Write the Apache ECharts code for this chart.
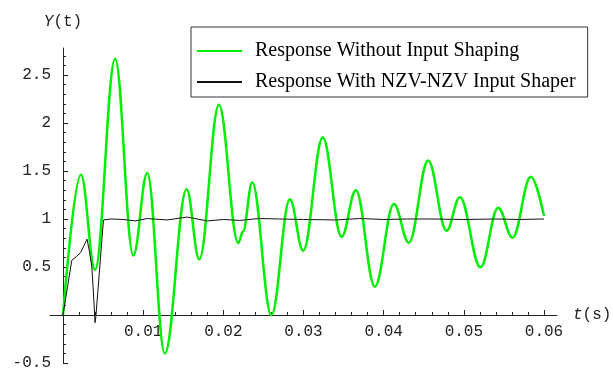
<!DOCTYPE html>
<html>
<head>
<meta charset="utf-8">
<script src="https://cdn.jsdelivr.net/npm/echarts@6/dist/echarts.min.js"></script>
<style>
html,body{margin:0;padding:0;background:#fff;}
#chart{width:613px;height:369px;}
</style>
</head>
<body>
<div id="chart"></div>
<script>
// ---- data ----
const seriesNames = ['Response Without Input Shaping', 'Response With NZV-NZV Input Shaper'];

// green: peaks / troughs of the unshaped response
const greenT = [0, 0.00224, 0.0040, 0.0065, 0.00877, 0.01051, 0.0127, 0.01542, 0.0170, 0.01945,
  0.02186, 0.02245, 0.0236, 0.0260, 0.0283, 0.02996, 0.0324, 0.03475, 0.03653, 0.0389,
  0.04127, 0.04314, 0.04555, 0.04784, 0.0495, 0.05208, 0.05428, 0.05607, 0.05835, 0.0600];
const greenY = [0, 1.46, 0.47, 2.67, 0.62, 1.48, -0.40, 1.31, 0.58, 2.19,
  0.75, 0.87, 1.38, 0.0, 1.205, 0.67, 1.85, 0.815, 1.30, 0.295,
  1.156, 0.753, 1.61, 0.878, 1.226, 0.497, 1.118, 0.805, 1.44, 1.03];

// black: shaped response
const blackT = [0, 0.0011, 0.0017, 0.0022, 0.0026, 0.0030, 0.0033, 0.0036, 0.0038, 0.0040,
  0.0041, 0.00505, 0.0060, 0.0075, 0.0090, 0.0105, 0.0130, 0.0155, 0.0180, 0.0200,
  0.0220, 0.0245, 0.0270, 0.0300, 0.0340, 0.0370, 0.0400, 0.0430, 0.0460, 0.0500,
  0.0540, 0.0570, 0.0600];
const blackY = [0, 0.57, 0.61, 0.65, 0.72, 0.79, 0.66, 0.50, 0.23, -0.08,
  -0.02, 0.99, 1.0, 0.995, 0.98, 1.005, 0.99, 1.02, 0.98, 0.995,
  0.985, 1.005, 1.0, 0.995, 0.99, 1.005, 0.995, 1.0, 1.0, 0.995,
  1.0, 0.995, 1.0];

const xTickLabels = [0.01, 0.02, 0.03, 0.04, 0.05, 0.06];
const yTickLabels = [-0.5, 0.5, 1, 1.5, 2, 2.5];
const yMajorTicks = [-0.5, 0, 0.5, 1, 1.5, 2, 2.5];

// minor tick positions
const xMinorTicks = [];
for (let k = 1; k <= 30; k++) { if (k % 5) xMinorTicks.push(Number((k * 0.002).toFixed(3))); }
const yMinorTicks = [];
for (let k = -5; k <= 27; k++) { if (k % 5) yMinorTicks.push(Number((k * 0.1).toFixed(1))); }

const green = greenT.map((t, i) => [t, greenY[i]]);
const black = blackT.map((t, i) => [t, blackY[i]]);

const monoFont = 'Liberation Mono';
const labelColor = '#222';
const axisColor = '#222';

const chart = echarts.init(document.getElementById('chart'), null, {renderer: 'canvas'});
chart.setOption({
  animation: false,
  backgroundColor: '#fff',
  grid: {left: 50, right: 56, top: 48, bottom: 6, containLabel: false, outerBoundsMode: 'none'},
  legend: {
    orient: 'vertical', left: 191, top: 27,
    padding: [13, 12, 4, 6], itemGap: 9,
    itemWidth: 45, itemHeight: 2, icon: 'rect',
    backgroundColor: '#fff', borderColor: '#333', borderWidth: 1, borderRadius: 0,
    textStyle: {fontFamily: 'Liberation Serif', fontSize: 20, color: '#000', lineHeight: 22, padding: [0, 0, 0, 8]},
    data: seriesNames
  },
  xAxis: [{
    type: 'value', position: 'bottom', min: -0.00162, max: 0.06162,
    axisLine: {onZero: true, lineStyle: {color: axisColor, width: 1}},
    axisTick: {inside: true, length: 5, customValues: xTickLabels, lineStyle: {color: axisColor}},
    axisLabel: {customValues: xTickLabels, margin: -39, fontFamily: monoFont, fontSize: 16, color: labelColor},
    splitLine: {show: false},
    name: '{i|t}(s)', nameLocation: 'end', nameGap: 16,
    nameTextStyle: {fontFamily: monoFont, fontSize: 16, color: labelColor, verticalAlign: 'middle',
      rich: {i: {fontFamily: monoFont, fontSize: 16, fontStyle: 'italic', color: labelColor}}}
  }, {
    type: 'value', position: 'bottom', min: -0.00162, max: 0.06162,
    axisLine: {show: false, onZero: true},
    axisTick: {inside: true, length: 3, customValues: xMinorTicks, lineStyle: {color: axisColor}},
    axisLabel: {show: false},
    splitLine: {show: false}
  }],
  yAxis: [{
    type: 'value', position: 'left', min: -0.5, max: 2.781,
    axisLine: {show: true, onZero: true, lineStyle: {color: axisColor, width: 1}},
    axisTick: {show: true, inside: true, length: 5, customValues: yMajorTicks, lineStyle: {color: axisColor}},
    axisLabel: {customValues: yTickLabels, margin: -1, fontFamily: monoFont, fontSize: 16, color: labelColor},
    splitLine: {show: false},
    name: '{i|Y}(t)', nameLocation: 'end', nameGap: 18,
    nameTextStyle: {fontFamily: monoFont, fontSize: 16, color: labelColor,
      rich: {i: {fontFamily: monoFont, fontSize: 16, fontStyle: 'italic', color: labelColor}}}
  }, {
    type: 'value', position: 'left', min: -0.5, max: 2.781,
    axisLine: {show: false, onZero: true},
    axisTick: {show: true, inside: true, length: 3, customValues: yMinorTicks, lineStyle: {color: axisColor}},
    axisLabel: {show: false},
    splitLine: {show: false}
  }],
  series: [{
    name: seriesNames[0], type: 'line', data: green,
    smooth: 0.38, smoothMonotone: 'x', symbol: 'none',
    lineStyle: {color: '#00ee00', width: 2.5}, itemStyle: {color: '#00ee00'}
  }, {
    name: seriesNames[1], type: 'line', data: black,
    smooth: false, symbol: 'none',
    lineStyle: {color: '#111', width: 1}, itemStyle: {color: '#111'}
  }]
});
</script>
</body>
</html>
